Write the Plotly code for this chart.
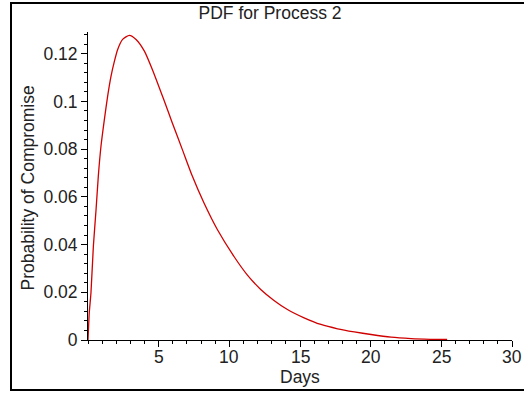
import plotly.graph_objects as go

# Curve
days = [0.0, 0.09, 0.21, 0.38, 0.57, 0.73, 0.92, 1.16, 1.39, 1.63, 1.87, 2.10, 2.45,
        2.93, 3.40, 3.99, 4.58, 5.36, 5.96, 6.67, 7.38, 8.20, 9.15, 10.33, 11.28,
        12.22, 13.16, 14.11, 15.29, 16.48, 17.66, 18.84, 20.03, 21.44, 22.86, 24.2, 25.41]
prob = [0.0, 0.0114, 0.0198, 0.0393, 0.0547, 0.0687, 0.0813, 0.0925, 0.1022, 0.1106,
        0.1169, 0.1218, 0.1260, 0.1277, 0.1260, 0.1211, 0.1130, 0.1008, 0.0911, 0.0799,
        0.0687, 0.0575, 0.0463, 0.0350, 0.0272, 0.0212, 0.0166, 0.0128, 0.0093, 0.0065,
        0.0047, 0.0034, 0.0023, 0.0012, 0.0006, 0.0003, 0.0002]

x_ticks = [5, 10, 15, 20, 25, 30]
y_ticks = [0, 0.02, 0.04, 0.06, 0.08, 0.1, 0.12]
y_labels = ["0", "0.02", "0.04", "0.06", "0.08", "0.1", "0.12"]

title_text = "PDF for Process 2"
x_title = "Days"
y_title = "Probability of Compromise"

FONT = "Liberation Sans, Arial, sans-serif"
FS = 17.5
TXT = "#222222"

fig = go.Figure()
fig.add_trace(go.Scatter(x=days, y=prob, mode="lines",
                         line=dict(color="#D00000", width=1.3, shape="spline", smoothing=0.6),
                         hoverinfo="x+y", showlegend=False))

L, R, T, B = 88, 12, 32, 55
W, H = 524, 395
pw, ph = W - L - R, H - T - B

def px_x(p):
    return (p - L) / pw

def px_y(p):
    return (H - B - p) / ph

annotations = [
    dict(text=x_title, xref="paper", yref="paper", x=0.5, y=px_y(377),
         xanchor="center", yanchor="middle", showarrow=False,
         font=dict(family=FONT, size=FS, color=TXT)),
    dict(text=y_title, xref="paper", yref="paper", x=px_x(27.5), y=px_y(188),
         xanchor="center", yanchor="middle", textangle=-90, showarrow=False,
         font=dict(family=FONT, size=FS, color=TXT)),
]
for v in x_ticks:
    annotations.append(dict(text=str(v), xref="x", yref="paper", x=v, y=px_y(356.5),
                            xanchor="center", yanchor="middle", showarrow=False,
                            font=dict(family=FONT, size=FS, color=TXT)))

fig.update_layout(
    width=W, height=H,
    margin=dict(l=L, r=R, t=T, b=B),
    paper_bgcolor="white", plot_bgcolor="white",
    font=dict(family=FONT, size=FS, color=TXT),
    title=dict(text=title_text, xref="container", x=270 / W, xanchor="center",
               yref="container", y=1 - 7 / H, yanchor="top",
               font=dict(family=FONT, size=FS, color=TXT)),
    xaxis=dict(range=[0, 30], tickvals=x_ticks, showticklabels=False,
               showline=True, linecolor="black", linewidth=1, showgrid=False, zeroline=False,
               ticks="outside", ticklen=6, tickcolor="black", tickwidth=1,
               minor=dict(dtick=1, ticks="outside", ticklen=3, tickcolor="black", showgrid=False)),
    yaxis=dict(range=[0, 0.1291], tickvals=y_ticks, ticktext=y_labels,
               showline=True, linecolor="black", linewidth=1, showgrid=False, zeroline=False,
               ticks="outside", ticklen=6, tickcolor="black", tickwidth=1,
               minor=dict(dtick=0.004, tick0=0, ticks="outside", ticklen=3, tickcolor="black", showgrid=False),
               tickfont=dict(family=FONT, size=FS, color=TXT)),
    annotations=annotations,
    shapes=[
        dict(type="line", xref="paper", yref="paper", x0=px_x(10), x1=px_x(524),
             y0=px_y(3), y1=px_y(3), line=dict(color="black", width=2)),
        dict(type="line", xref="paper", yref="paper", x0=px_x(11), x1=px_x(11),
             y0=px_y(2), y1=px_y(391), line=dict(color="black", width=2)),
        dict(type="line", xref="paper", yref="paper", x0=px_x(10), x1=px_x(524),
             y0=px_y(390), y1=px_y(390), line=dict(color="black", width=2)),
    ],
)

fig.write_html("out.html", config={"displayModeBar": False},
               post_script="document.body.style.margin='0';document.body.style.overflow='hidden';")
